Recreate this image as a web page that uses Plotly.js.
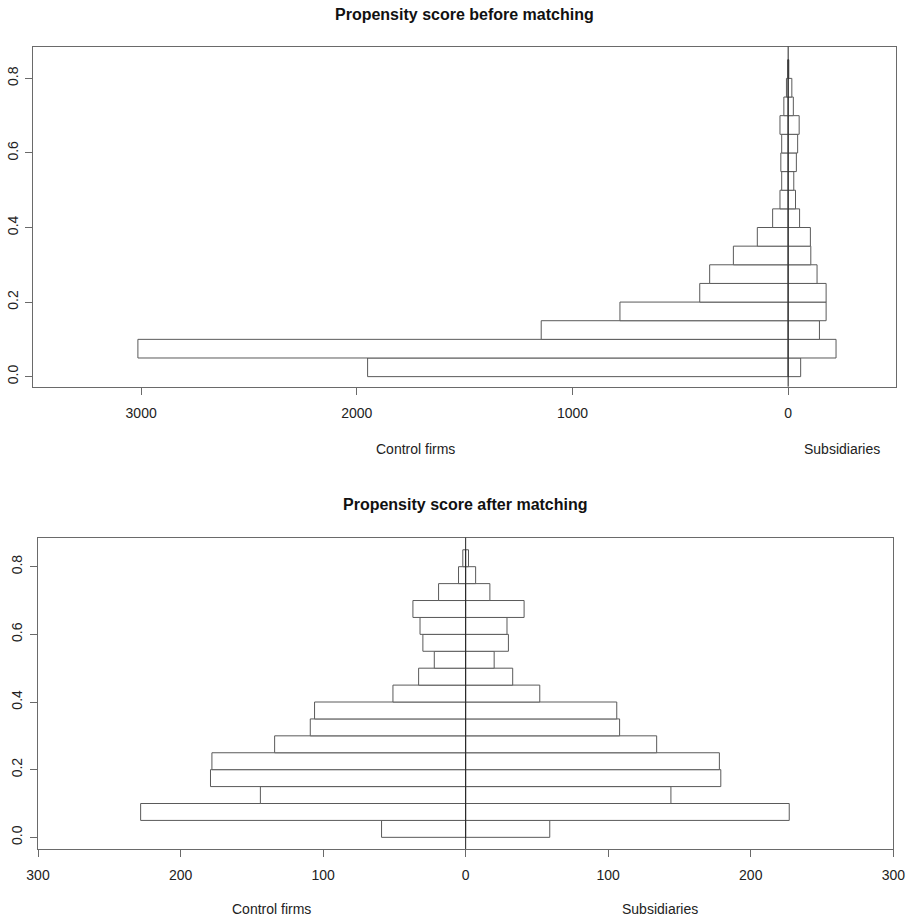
<!DOCTYPE html>
<html>
<head>
<meta charset="utf-8">
<script src="https://cdn.plot.ly/plotly-3.0.1.min.js"></script>
<style>
  html, body { margin: 0; padding: 0; background: #fff; }
  #chart { width: 908px; height: 919px; }
</style>
</head>
<body>
<div id="chart"></div>
<script>
// Bin lower edges of the propensity score histogram (bin width 0.05)
const binLower = [0.00, 0.05, 0.10, 0.15, 0.20, 0.25, 0.30, 0.35, 0.40, 0.45, 0.50, 0.55, 0.60, 0.65, 0.70, 0.75, 0.80];
const binWidth = 0.05;

// Before matching (counts)
const beforeControl = [1950, 3015, 1145, 780, 410, 364, 254, 143, 72, 38, 30, 34, 30, 38, 20, 8, 2];
const beforeSubs    = [58, 222, 145, 176, 176, 134, 105, 103, 53, 34, 26, 38, 44, 51, 24, 17, 3];

// After matching (counts)
const afterControl = [59, 228, 144, 179, 178, 134, 109, 106, 51, 33, 22, 30, 32, 37, 19, 5, 2];
const afterSubs    = [59, 227, 144, 179, 178, 134, 108, 106, 52, 33, 20, 30, 29, 41, 17, 7, 2];

// Tick labels
const yTickVals = [0, 0.2, 0.4, 0.6, 0.8];
const yTickText = ["0.0", "0.2", "0.4", "0.6", "0.8"];
const topXTickVals = [-3000, -2000, -1000, 0];
const topXTickText = ["3000", "2000", "1000", "0"];
const botXTickVals = [-300, -200, -100, 0, 100, 200, 300];
const botXTickText = ["300", "200", "100", "0", "100", "200", "300"];

const titles = ["Propensity score before matching", "Propensity score after matching"];
const sideLabels = ["Control firms", "Subsidiaries"];

const mids = binLower.map(b => b + binWidth / 2);
const barLine = { color: "#5a5a5a", width: 1 };

function barTrace(vals, sign, xa, ya) {
  return {
    type: "bar", orientation: "h",
    y: mids, x: vals.map(v => sign * v),
    width: binWidth,
    marker: { color: "#ffffff", line: barLine },
    xaxis: xa, yaxis: ya, showlegend: false, hoverinfo: "x+y"
  };
}

const data = [
  barTrace(beforeControl, -1, "x", "y"),
  barTrace(beforeSubs, 1, "x", "y"),
  barTrace(afterControl, -1, "x2", "y2"),
  barTrace(afterSubs, 1, "x2", "y2")
];

const W = 908, H = 919;
const fx = px => px / W;
const fy = py => 1 - py / H;

const tickFont = { family: "Liberation Sans, Arial, sans-serif", size: 14, color: "#222" };
const axBase = {
  showgrid: false, zeroline: false, showline: true, mirror: true,
  linecolor: "#6a6a6a", linewidth: 1,
  ticks: "outside", ticklen: 7, tickcolor: "#6a6a6a", tickwidth: 1,
  tickfont: tickFont, fixedrange: true
};

const layout = {
  width: W, height: H,
  margin: { l: 0, r: 0, t: 0, b: 0 },
  paper_bgcolor: "#fff", plot_bgcolor: "#fff",
  barmode: "overlay", bargap: 0,
  font: tickFont,
  xaxis: Object.assign({}, axBase, {
    domain: [fx(33.3), fx(896)], range: [-3500, 500],
    tickmode: "array", tickvals: topXTickVals, ticktext: topXTickText,
    anchor: "y", ticklabelstandoff: 6
  }),
  yaxis: Object.assign({}, axBase, {
    domain: [fy(386.7), fy(46.7)], range: [-0.027, 0.885],
    tickmode: "array", tickvals: yTickVals, ticktext: yTickText,
    tickangle: -90, anchor: "x", ticklabelstandoff: 2
  }),
  xaxis2: Object.assign({}, axBase, {
    domain: [fx(38), fx(893.3)], range: [-300, 300],
    tickmode: "array", tickvals: botXTickVals, ticktext: botXTickText,
    anchor: "y2", ticklabelstandoff: 6
  }),
  yaxis2: Object.assign({}, axBase, {
    domain: [fy(849), fy(537.7)], range: [-0.0345, 0.8857],
    tickmode: "array", tickvals: yTickVals, ticktext: yTickText,
    tickangle: -90, anchor: "x2", ticklabelstandoff: 2
  }),
  shapes: [
    { type: "line", xref: "x", yref: "y domain", x0: 0, x1: 0, y0: 0, y1: 1, layer: "above",
      line: { color: "#222", width: 1 } },
    { type: "line", xref: "x2", yref: "y2 domain", x0: 0, x1: 0, y0: 0, y1: 1, layer: "above",
      line: { color: "#222", width: 1 } }
  ],
  annotations: [
    { text: "<b>" + titles[0] + "</b>", xref: "paper", yref: "paper", x: fx(464), y: fy(15),
      showarrow: false, xanchor: "center", yanchor: "middle",
      font: { family: "Liberation Sans, Arial, sans-serif", size: 16, color: "#111" } },
    { text: "<b>" + titles[1] + "</b>", xref: "paper", yref: "paper", x: fx(465), y: fy(505),
      showarrow: false, xanchor: "center", yanchor: "middle",
      font: { family: "Liberation Sans, Arial, sans-serif", size: 16, color: "#111" } },
    { text: sideLabels[0], xref: "paper", yref: "paper", x: fx(415), y: fy(449),
      showarrow: false, xanchor: "center", yanchor: "middle", font: tickFont },
    { text: sideLabels[1], xref: "paper", yref: "paper", x: fx(842), y: fy(449),
      showarrow: false, xanchor: "center", yanchor: "middle", font: tickFont },
    { text: sideLabels[0], xref: "paper", yref: "paper", x: fx(271), y: fy(909),
      showarrow: false, xanchor: "center", yanchor: "middle", font: tickFont },
    { text: sideLabels[1], xref: "paper", yref: "paper", x: fx(660), y: fy(909),
      showarrow: false, xanchor: "center", yanchor: "middle", font: tickFont }
  ]
};

Plotly.newPlot("chart", data, layout, { displayModeBar: false, staticPlot: true });
</script>
</body>
</html>
